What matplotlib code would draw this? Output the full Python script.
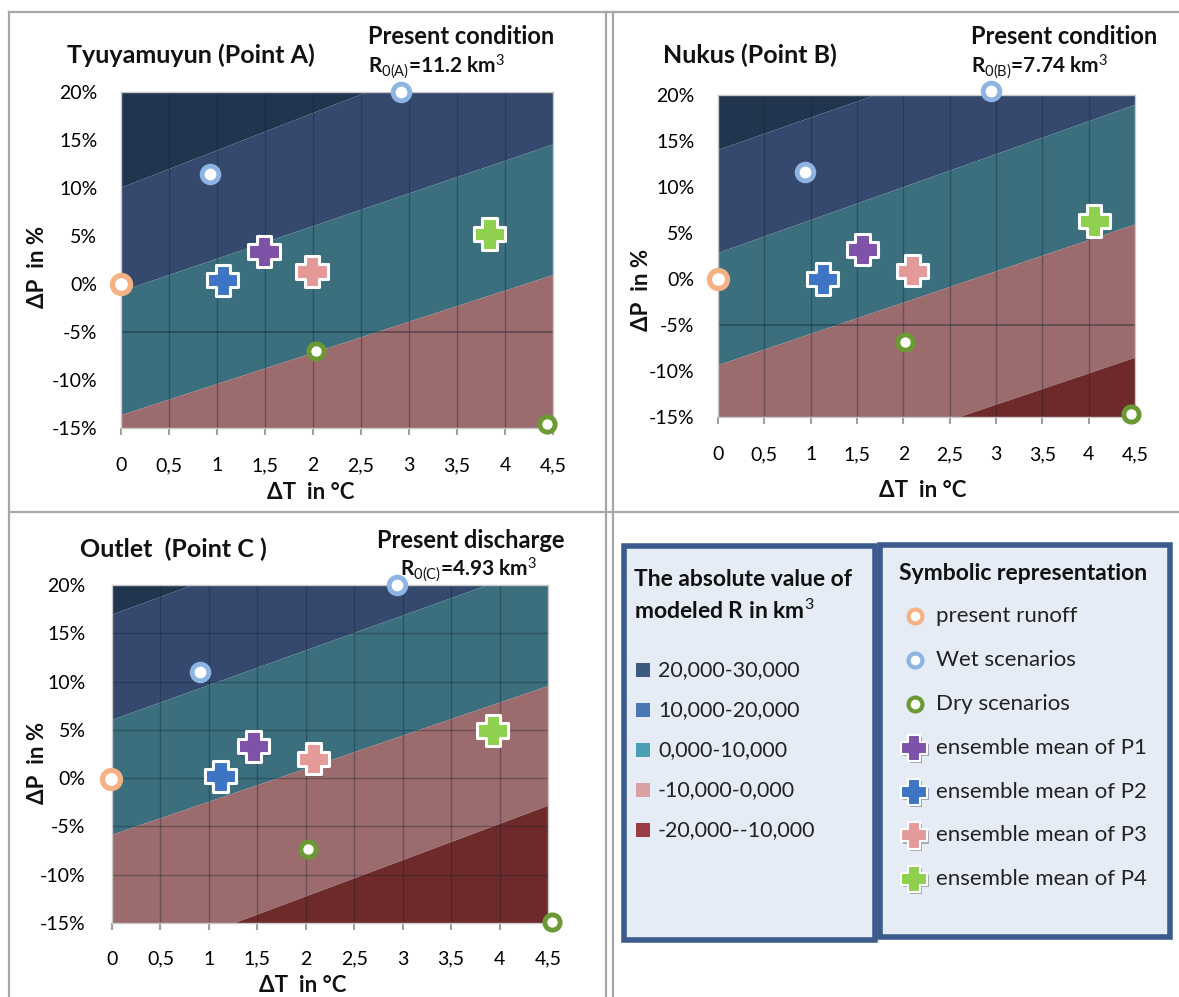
import numpy as np
import matplotlib
matplotlib.use('Agg')
import matplotlib.pyplot as plt
import matplotlib.patheffects as pe
from matplotlib.patches import Rectangle
from matplotlib.path import Path

plt.rcParams['font.family'] = ['Lato', 'DejaVu Sans']
plt.rcParams['mathtext.fontset'] = 'custom'
plt.rcParams['mathtext.rm'] = 'Lato'
plt.rcParams['mathtext.it'] = 'Lato:italic'
plt.rcParams['mathtext.bf'] = 'Lato:bold'

# ---------------- data ----------------
t_ticks = [0, 0.5, 1, 1.5, 2, 2.5, 3, 3.5, 4, 4.5]
t_labels = ['0', '0,5', '1', '1,5', '2', '2,5', '3', '3,5', '4', '4,5']
p_ticks = [-15, -10, -5, 0, 5, 10, 15, 20]
p_labels = ['-15%', '-10%', '-5%', '0%', '5%', '10%', '15%', '20%']

band_names = ['20,000-30,000', '10,000-20,000', '0,000-10,000',
              '-10,000-0,000', '-20,000--10,000']
band_colors = ['#22354f', '#34496d', '#3b6f7e', '#9c6b6e', '#6e2a2a']
legend_colors = ['#3c5a80', '#4a78b4', '#4a9fb5', '#d8a2a4', '#9b3d44']

# contour boundaries (dP at dT=0, dP at dT=4.5) for R = 20000, 10000, 0, -10000
bound_x = [0, 4.5]
bounds_A = [(10.1, 27.6), (-0.7, 14.6), (-13.6, 1.0), (-30.0, -17.0)]
bounds_B = [(14.1, 29.9), (2.9, 19.0), (-9.3, 6.0), (-23.8, -8.5)]
bounds_C = [(17.0, 33.5), (6.1, 22.3), (-5.8, 9.6), (-19.7, -2.8)]

# scenario points (dT, dP)
present_A = ([0.0], [0.0])
wet_A = ([0.93, 2.92], [11.5, 20.0])
dry_A = ([2.03, 4.44], [-7.0, -14.6])
ens_A = ([1.49, 1.06, 1.99, 3.84], [3.4, 0.4, 1.3, 5.2])

present_B = ([0.0], [0.0])
wet_B = ([0.94, 2.95], [11.6, 20.4])
dry_B = ([2.02, 4.46], [-6.9, -14.7])
ens_B = ([1.56, 1.13, 2.10, 4.06], [3.2, 0.0, 0.9, 6.3])

present_C = ([-0.01], [-0.1])
wet_C = ([0.91, 2.94], [11.0, 20.0])
dry_C = ([2.02, 4.54], [-7.3, -14.9])
ens_C = ([1.46, 1.12, 2.08, 3.93], [3.3, 0.2, 2.0, 4.95])

ens_names = ['ensemble mean of P1', 'ensemble mean of P2',
             'ensemble mean of P3', 'ensemble mean of P4']
ens_colors = ['#7d52a8', '#3d74c4', '#e59a9a', '#8fd14f']
ring_names = ['present runoff', 'Wet scenarios', 'Dry scenarios']
ring_colors = ['#f4b183', '#8db4e2', '#6b9a35']

# chunky Excel-like cross marker
a = 0.23
cross = Path([(-a, 0.5), (a, 0.5), (a, a), (0.5, a), (0.5, -a), (a, -a), (a, -0.5),
              (-a, -0.5), (-a, -a), (-0.5, -a), (-0.5, a), (-a, a), (-a, 0.5)], closed=True)

W, H = 1179, 997
fig = plt.figure(figsize=(W / 100, H / 100), dpi=100)

# overlay in pixel coordinates for frames, texts and legend
ov = fig.add_axes([0, 0, 1, 1], zorder=0)
ov.set_xlim(0, W)
ov.set_ylim(H, 0)
ov.axis('off')

gray = '#a6a6a6'
ov.plot([9, W], [12, 12], c=gray, lw=1.6)
ov.plot([9, 9], [12, H], c=gray, lw=1.6)
ov.plot([9, W], [512, 512], c=gray, lw=1.6)
ov.plot([606, 606], [12, H], c=gray, lw=1.6)
ov.plot([613, 613], [12, H], c=gray, lw=1.6)

shadow = [pe.SimplePatchShadow(offset=(1.5, -1.5), alpha=0.35), pe.Normal()]


def panel(box, bounds, present, wet, dry, ens, tpad, ypad, grid_all):
    left, right, top, bottom = box
    ax = fig.add_axes([left / W, (H - bottom) / H, (right - left) / W, (bottom - top) / H], zorder=2)
    x = np.array(bound_x)
    edges = [(40, 40)] + bounds + [(-40, -40)]
    for i, c in enumerate(band_colors):
        ax.fill_between(x, edges[i + 1], edges[i], color=c, lw=0)
    for t in t_ticks[1:-1]:
        ax.axvline(t, c='#10202c', lw=1, alpha=0.35)
    if grid_all:
        for p in p_ticks[1:-1]:
            ax.axhline(p, c='#10202c', lw=1, alpha=0.35)
    else:
        ax.axhline(-5, c='#10202c', lw=1.2, alpha=0.45)
    ax.set_xlim(0, 4.5)
    ax.set_ylim(-15, 20)
    ax.set_xticks(t_ticks)
    ax.set_xticklabels(t_labels)
    ax.set_yticks(p_ticks)
    ax.set_yticklabels(p_labels)
    ax.tick_params(axis='x', length=5, width=1.5, color='#a0a0a0', pad=tpad, labelsize=14)
    ax.tick_params(axis='y', length=0, pad=ypad, labelsize=14)
    for s in ax.spines.values():
        s.set_color('#c8c8c8')
        s.set_linewidth(1)

    ax.plot(*present, 'o', ms=13, mfc='white', mec=ring_colors[0], mew=3.8, clip_on=False, zorder=5)
    ax.plot(*wet, 'o', ms=12, mfc='white', mec=ring_colors[1], mew=3.5, clip_on=False, zorder=5)
    ax.plot(*dry, 'o', ms=11, mfc='white', mec=ring_colors[2], mew=3.5, clip_on=False, zorder=5)
    for i in range(4):
        ax.plot(ens[0][i], ens[1][i], marker=cross, ms=22.5, mfc=ens_colors[i], mec='white', mew=2.2,
                ls='none', clip_on=False, zorder=6, path_effects=shadow)
    return ax


panel((121, 553, 92, 428), bounds_A, present_A, wet_A, dry_A, ens_A, 16, 17, False)
panel((718, 1135, 95, 417), bounds_B, present_B, wet_B, dry_B, ens_B, 16, 17, False)
panel((112, 548, 585, 923), bounds_C, present_C, wet_C, dry_C, ens_C, 15, 19, True)

bold = dict(fontweight='bold', va='center', color='#111111')
ov.text(67, 55, 'Tyuyamuyun (Point A)', ha='left', fontsize=18, **bold)
ov.text(368, 37, 'Present condition', ha='left', fontsize=17, **bold)
ov.text(368, 67, r'R$_{\mathrm{0(A)}}$=11.2 km$^{\mathrm{3}}$', ha='left', fontsize=15, **bold)
ov.text(38, 267, 'ΔP  in %', ha='center', rotation=90, fontsize=16, **bold)
ov.text(311, 492, 'ΔT  in °C', ha='center', fontsize=16, **bold)

ov.text(663, 55, 'Nukus (Point B)', ha='left', fontsize=18, **bold)
ov.text(971, 37, 'Present condition', ha='left', fontsize=17, **bold)
ov.text(971, 67, r'R$_{\mathrm{0(B)}}$=7.74 km$^{\mathrm{3}}$', ha='left', fontsize=15, **bold)
ov.text(641, 290, 'ΔP  in %', ha='center', rotation=90, fontsize=16, **bold)
ov.text(923, 490, 'ΔT  in °C', ha='center', fontsize=16, **bold)

ov.text(80, 549, 'Outlet  (Point C )', ha='left', fontsize=18, **bold)
ov.text(377, 540, 'Present discharge', ha='left', fontsize=17, **bold)
ov.text(400, 570, r'R$_{\mathrm{0(C)}}$=4.93 km$^{\mathrm{3}}$', ha='left', fontsize=15, **bold)
ov.text(38, 763, 'ΔP  in %', ha='center', rotation=90, fontsize=16, **bold)
ov.text(303, 985, 'ΔT  in °C', ha='center', fontsize=16, **bold)

# legend boxes
for x0, x1, y0, y1 in [(624, 875, 546, 940), (880, 1170, 545, 937)]:
    ov.add_patch(Rectangle((x0, y0), x1 - x0, y1 - y0, fc='#e6ecf6', ec='#3b5b8c', lw=4, zorder=1))

ov.text(634, 579, 'The absolute value of', ha='left', fontsize=16.5, zorder=3, **bold)
ov.text(634, 611, r'modeled R in km$^{\mathrm{3}}$', ha='left', fontsize=16.5, zorder=3, **bold)
for i, name in enumerate(band_names):
    yy = 670 + i * 40
    ov.add_patch(Rectangle((636, yy - 7), 14, 14, fc=legend_colors[i], ec='none', zorder=3))
    ov.text(658, yy, name, ha='left', va='center', fontsize=15.5, color='#222222', zorder=3)

ov.text(899, 573, 'Symbolic representation', ha='left', fontsize=16.5, zorder=3, **bold)
for i, name in enumerate(ring_names):
    yy = 616 + i * 44
    ov.plot(915, yy, 'o', ms=10, mfc='white', mec=ring_colors[i], mew=3, zorder=3)
    ov.text(936, yy, name, ha='left', va='center', fontsize=16, color='#222222', zorder=3)
for i, name in enumerate(ens_names):
    yy = 748 + i * 43.7
    ov.plot(914, yy, marker=cross, ms=19, mfc=ens_colors[i], mec='white', mew=1.5, ls='none',
            zorder=3, path_effects=shadow)
    ov.text(936, yy, name, ha='left', va='center', fontsize=16, color='#222222', zorder=3)

fig.savefig('out.png', dpi=100)
